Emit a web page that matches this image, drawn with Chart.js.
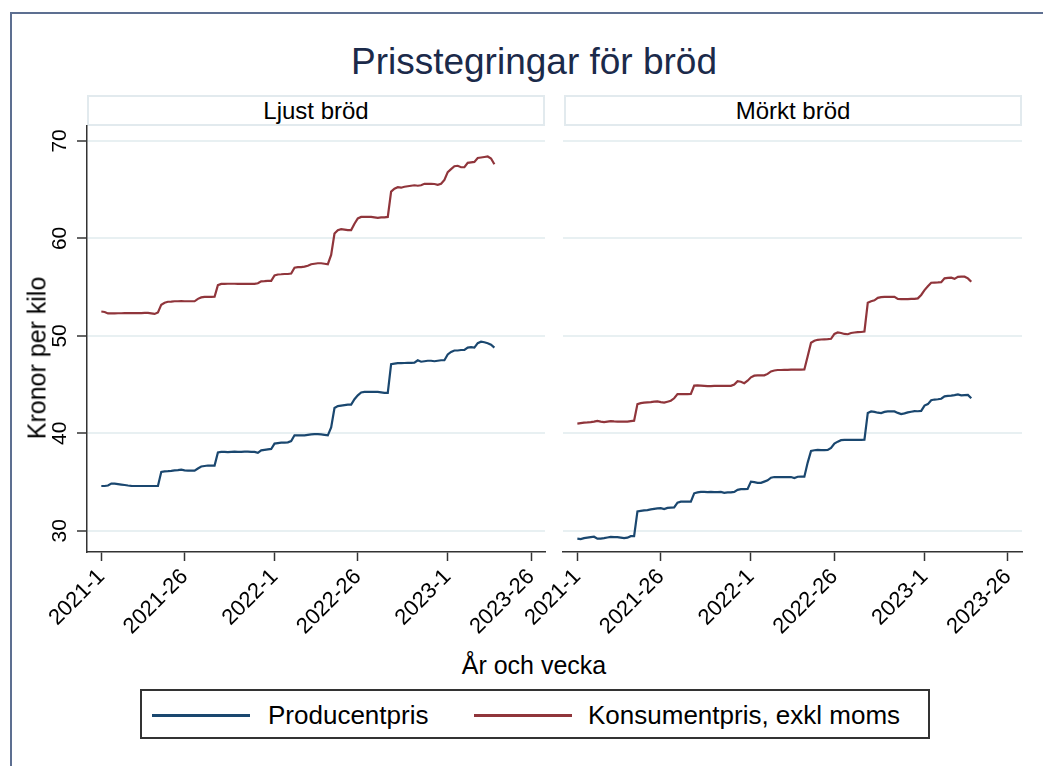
<!DOCTYPE html>
<html>
<head>
<meta charset="utf-8">
<script src="https://cdn.jsdelivr.net/npm/chart.js@4.4.0/dist/chart.umd.min.js"></script>
<style>
body{margin:0;background:#fff;font-family:"Liberation Sans",Arial,sans-serif;}
#wrap{position:relative;width:1043px;height:766px;overflow:hidden;background:#fff;}
.frame{position:absolute;left:10px;top:12px;width:1100px;height:800px;border-left:2px solid #5d6f91;border-top:2px solid #5d6f91;}
.title{position:absolute;left:0;width:1068px;top:40px;text-align:center;font-size:37px;color:#1b2a4a;line-height:44px;}
.strip{position:absolute;top:95px;height:31px;box-sizing:border-box;border:2px solid #e2eaee;text-align:center;font-size:24px;line-height:27px;color:#000;}
canvas{position:absolute;}
.ytitle{position:absolute;left:37px;top:358px;transform:translate(-50%,-50%) rotate(-90deg);font-size:25px;white-space:nowrap;color:#000;}
.xtitle{position:absolute;left:0;width:1068px;top:650px;text-align:center;font-size:25px;line-height:30px;color:#000;}
.legend{position:absolute;left:140px;top:689px;width:790px;height:50px;box-sizing:border-box;border:2px solid #333;}
.lg{position:absolute;top:11px;font-size:26px;line-height:26px;color:#000;white-space:nowrap;}
.ln{position:absolute;top:23px;height:3px;width:98px;}
</style>
</head>
<body>
<div id="wrap">
  <div class="frame"></div>
  <div class="title">Prisstegringar för bröd</div>
  <div class="strip" style="left:87px;width:458px;">Ljust bröd</div>
  <div class="strip" style="left:564px;width:458px;">Mörkt bröd</div>
  <canvas id="left" width="550" height="530" style="left:0;top:120px;"></canvas>
  <canvas id="right" width="550" height="530" style="left:480px;top:120px;"></canvas>
  <div class="ytitle">Kronor per kilo</div>
  <div class="xtitle">År och vecka</div>
  <div class="legend">
    <div class="ln" style="left:10px;background:#1a476f;"></div>
    <div class="lg" style="left:126px;">Producentpris</div>
    <div class="ln" style="left:332px;background:#90353b;"></div>
    <div class="lg" style="left:446px;">Konsumentpris, exkl moms</div>
  </div>
</div>
<script>
// x axis: week number counted from 2021-1
const weekTicks=[0,25,52,77,104,129];
const weekTickLabels=['2021-1','2021-26','2022-1','2022-26','2023-1','2023-26'];
const yTicks=[30,40,50,60,70];

// Ljust bröd, weekly from 2021-1
const ljustProducent=[34.6,34.6,34.65,34.85,34.85,34.8,34.75,34.7,34.65,34.62,34.6,34.6,34.6,34.6,34.6,34.6,34.6,34.6,
36.05,36.1,36.12,36.15,36.2,36.22,36.27,36.2,36.18,36.18,36.18,36.4,36.6,36.65,36.7,36.7,36.7,
38.05,38.1,38.1,38.08,38.1,38.12,38.1,38.1,38.12,38.12,38.1,38.1,38.0,38.25,38.3,38.35,38.4,
38.95,39.0,39.05,39.05,39.08,39.2,39.8,39.8,39.8,39.8,39.85,39.9,39.93,39.93,39.9,39.85,39.8,
40.6,42.6,42.8,42.85,42.9,42.95,42.95,43.5,43.9,44.2,44.25,44.25,44.25,44.25,44.25,44.2,44.15,44.15,
47.1,47.15,47.2,47.2,47.22,47.24,47.24,47.25,47.5,47.35,47.4,47.45,47.45,47.4,47.45,47.5,47.5,
48.1,48.35,48.5,48.5,48.55,48.57,48.8,48.85,48.8,49.25,49.4,49.35,49.25,49.1,48.8];
const ljustKonsument=[52.5,52.45,52.3,52.3,52.3,52.32,52.32,52.33,52.33,52.33,52.34,52.34,52.34,52.35,52.35,52.3,52.25,52.4,
53.2,53.4,53.5,53.52,53.55,53.55,53.57,53.55,53.55,53.55,53.55,53.8,53.95,54.0,54.0,54.0,54.02,
55.2,55.33,55.33,55.35,55.35,55.35,55.33,55.33,55.33,55.33,55.33,55.33,55.4,55.6,55.62,55.65,55.65,
56.2,56.3,56.32,56.35,56.35,56.4,57.0,57.05,57.05,57.1,57.2,57.35,57.4,57.45,57.45,57.4,57.35,
58.3,60.5,60.85,60.95,60.9,60.85,60.85,61.5,62.05,62.2,62.2,62.2,62.2,62.15,62.1,62.15,62.15,62.2,
64.8,65.1,65.25,65.2,65.3,65.35,65.4,65.45,65.4,65.45,65.6,65.6,65.6,65.58,65.5,65.6,66.0,
66.8,67.1,67.4,67.45,67.3,67.3,67.75,67.8,67.85,68.25,68.3,68.35,68.4,68.2,67.6];

// Mörkt bröd, weekly from 2021-1
const morktProducent=[29.2,29.15,29.25,29.3,29.35,29.4,29.2,29.2,29.25,29.32,29.38,29.35,29.35,29.3,29.25,29.3,29.45,29.45,
32.0,32.05,32.1,32.13,32.2,32.25,32.3,32.33,32.23,32.35,32.38,32.4,32.9,33.0,33.0,33.0,33.0,
33.85,33.95,34.0,34.0,33.98,34.0,33.98,33.97,34.0,33.9,33.95,33.95,34.0,34.2,34.28,34.29,34.3,
35.05,35.0,34.93,34.92,35.05,35.18,35.45,35.52,35.52,35.52,35.52,35.52,35.52,35.42,35.55,35.56,35.56,
37.0,38.2,38.27,38.3,38.28,38.28,38.3,38.5,38.95,39.15,39.3,39.33,39.33,39.33,39.33,39.33,39.33,39.35,
42.1,42.25,42.2,42.12,42.08,42.2,42.25,42.25,42.25,42.1,41.98,42.05,42.15,42.22,42.28,42.27,42.3,
42.85,43.0,43.4,43.47,43.5,43.55,43.8,43.84,43.87,43.92,44.0,43.9,43.93,43.95,43.6];
const morktKonsument=[41.0,41.05,41.1,41.12,41.15,41.2,41.28,41.2,41.15,41.2,41.25,41.22,41.2,41.2,41.2,41.2,41.25,41.3,
43.0,43.1,43.15,43.18,43.2,43.25,43.28,43.2,43.15,43.25,43.35,43.6,44.03,44.03,44.03,44.03,44.05,
44.9,44.92,44.9,44.88,44.85,44.85,44.87,44.87,44.87,44.87,44.87,44.87,45.0,45.35,45.3,45.15,45.4,
45.75,45.92,45.95,45.95,45.95,46.1,46.35,46.45,46.5,46.5,46.52,46.52,46.53,46.54,46.54,46.54,46.55,
47.9,49.3,49.5,49.6,49.63,49.65,49.66,49.7,50.2,50.35,50.3,50.2,50.17,50.3,50.35,50.38,50.4,50.45,
53.4,53.55,53.65,53.9,53.97,54.0,54.0,54.0,54.0,53.8,53.77,53.78,53.78,53.8,53.8,53.85,54.2,
54.7,55.1,55.45,55.47,55.48,55.5,55.9,55.95,55.97,55.85,56.05,56.07,56.07,55.9,55.55];

const fontFam='"Liberation Sans", Arial, sans-serif';

function toPoints(arr){
  return arr.map((v,i)=>({x:i,y:v}));
}

function makePanel(id, producent, konsument, showY, yWidth, padRight){
  let ctx=document.getElementById(id).getContext('2d');
  return new Chart(ctx,{
    type:'line',
    data:{
      datasets:[{
        label:'Producentpris',
        data:toPoints(producent),
        borderColor:'#1a476f',
        borderWidth:2.2,
        pointRadius:0,
        tension:0
      },{
        label:'Konsumentpris, exkl moms',
        data:toPoints(konsument),
        borderColor:'#90353b',
        borderWidth:2.2,
        pointRadius:0,
        tension:0
      }]
    },
    options:{
      responsive:false,
      animation:false,
      layout:{padding:{top:6,right:padRight,left:0,bottom:0}},
      plugins:{legend:{display:false},tooltip:{enabled:false}},
      scales:{
        x:{
          type:'linear',min:-4.3,max:133.2,
          afterBuildTicks:s=>{s.ticks=weekTicks.map(v=>({value:v}))},
          afterFit:s=>{s.height=98;s.paddingLeft=0;s.paddingRight=0},
          ticks:{autoSkip:false,minRotation:45,maxRotation:45,padding:3,color:'#000',
            font:{size:22,family:fontFam},
            callback:(v,i)=>weekTickLabels[i]},
          grid:{drawOnChartArea:false,drawTicks:true,tickLength:9,tickColor:'#333',tickWidth:1.5},
          border:{display:true,color:'#333',width:1.5}
        },
        y:{
          min:27.83,max:71.53,
          afterBuildTicks:s=>{s.ticks=yTicks.map(v=>({value:v}))},
          afterFit:s=>{s.width=yWidth;s.paddingTop=0;s.paddingBottom=0},
          ticks:{display:showY,autoSkip:false,minRotation:90,maxRotation:90,crossAlign:'center',padding:5,color:'#000',
            font:{size:21,family:fontFam}},
          grid:{color:'#e8f0f2',lineWidth:2,drawTicks:showY,tickLength:10,tickColor:'#333',tickWidth:1.5},
          border:{display:showY,color:'#333',width:1.5}
        }
      }
    }
  });
}

makePanel('left', ljustProducent, ljustKonsument, true, 87, 5);
makePanel('right', morktProducent, morktKonsument, false, 83, 8);
</script>
</body>
</html>
